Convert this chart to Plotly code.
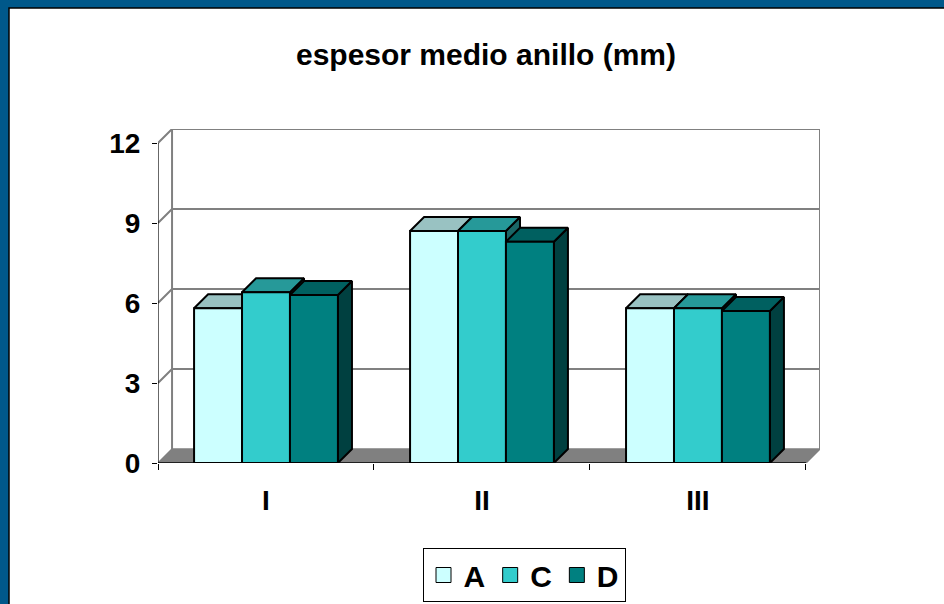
import plotly.graph_objects as go

# data
categories = ["I", "II", "III"]
series_names = ["A", "C", "D"]
values_a = [5.8, 8.7, 5.8]
values_c = [6.4, 8.7, 5.8]
values_d = [6.3, 8.3, 5.7]
y_ticks = [0, 3, 6, 9, 12]

FRONT = ["#CCFFFF", "#33CCCC", "#008080"]
TOP = ["#99C2C2", "#269999", "#006060"]
SIDE = ["#668080", "#1A6666", "#004040"]
FRAME_BLUE = "#00588A"
GRID = "#808080"
FONT = "Arial, Liberation Sans, sans-serif"

W, H = 944, 604
ML, MR, MT, MB = 158, 124, 129, 141
PW, PH = W - ML - MR, H - MT - MB
DX = 0.065   # depth of the fake 3D box, x units
DY = 0.525   # depth of the fake 3D box, y units
BAR_W = 0.222
X0, X1 = -0.5, len(categories) - 0.5
YMAX = y_ticks[-1]


fig = go.Figure()


def poly(xs, ys, fill, line_color="black", width=2):
    fig.add_trace(go.Scatter(
        x=xs + xs[:1], y=ys + ys[:1], mode="lines", fill="toself",
        fillcolor=fill, line=dict(color=line_color, width=width),
        hoverinfo="skip", showlegend=False,
    ))


def line(xs, ys, color, width):
    fig.add_trace(go.Scatter(
        x=xs, y=ys, mode="lines", line=dict(color=color, width=width),
        hoverinfo="skip", showlegend=False,
    ))


# back wall + gridlines
for v in y_ticks[1:]:
    line([X0, X0 + DX, X1 + DX], [v, v + DY, v + DY], GRID, 2)
line([X0 + DX, X0 + DX], [DY, YMAX + DY], GRID, 2)
line([X1 + DX, X1 + DX], [DY, YMAX + DY], GRID, 2)

# floor
poly([X0, X1, X1 + DX, X0 + DX], [0, 0, DY, DY], GRID, GRID, 1.5)

# front axes
line([X0, X0], [0, YMAX], "black", 1.2)
line([X0, X1], [0, 0], "black", 1.5)

# bars, left to right so the right neighbour hides the side face
all_values = [values_a, values_c, values_d]
for i in range(len(categories)):
    for j, vals in enumerate(all_values):
        h = vals[i]
        x0 = i + (j - 1.5) * BAR_W
        x1 = x0 + BAR_W
        poly([x1, x1 + DX, x1 + DX, x1], [0, DY, h + DY, h], SIDE[j])
        poly([x0, x1, x1 + DX, x0 + DX], [h, h, h + DY, h + DY], TOP[j])
        poly([x0, x1, x1, x0], [0, 0, h, h], FRONT[j])

# legend entries
for j, name in enumerate(series_names):
    fig.add_trace(go.Scatter(
        x=[None], y=[None], mode="markers", name=name,
        marker=dict(symbol="square", size=15, color=FRONT[j],
                    line=dict(color="black", width=1)),
    ))


def px_x(p):
    return (p - ML) / PW


def px_y(p):
    return (H - MB - p) / PH


fig.add_shape(
    type="rect", xref="paper", yref="paper", layer="below",
    x0=px_x(9), x1=px_x(W + 10), y0=px_y(H + 10), y1=px_y(8),
    fillcolor="white", line=dict(color="black", width=1.5),
)

fig.update_layout(
    width=W, height=H,
    margin=dict(l=ML, r=MR, t=MT, b=MB, autoexpand=False),
    paper_bgcolor=FRAME_BLUE, plot_bgcolor="white",
    font=dict(family=FONT, color="black"),
    title=dict(
        text="espesor medio anillo (mm)", x=486 / W, xanchor="center",
        y=1 - 54 / H, yanchor="middle",
        font=dict(size=30, weight="bold", color="black"),
    ),
    showlegend=True,
    legend=dict(
        orientation="h", xref="container", yref="container",
        x=524 / W, xanchor="center", y=1 - 548 / H, yanchor="top",
        bordercolor="black", borderwidth=1, bgcolor="white",
        font=dict(size=30, weight="bold"), itemsizing="trace",
        tracegroupgap=0,
    ),
    xaxis=dict(
        range=[X0, X1 + DX], tickvals=list(range(len(categories))), ticktext=categories,
        showgrid=False, zeroline=False, showline=False, ticks="", automargin=False,
        tickfont=dict(size=28, weight="bold"), ticklabelstandoff=18,
        minor=dict(tickmode="array", tickvals=[X0 + k for k in range(len(categories) + 1)],
                   ticks="outside", ticklen=6, tickcolor="black", tickwidth=1.2),
        fixedrange=True,
    ),
    yaxis=dict(
        range=[0, YMAX + DY], tickvals=y_ticks, showgrid=False, zeroline=False,
        showline=False, ticks="outside", ticklen=5, tickcolor="black", tickwidth=1.2,
        tickfont=dict(size=28, weight="bold"), ticklabelstandoff=6, automargin=False,
        fixedrange=True,
    ),
)

fig.write_html(
    "out.html",
    config={"displayModeBar": False},
    post_script="document.body.style.margin='0';",
)
